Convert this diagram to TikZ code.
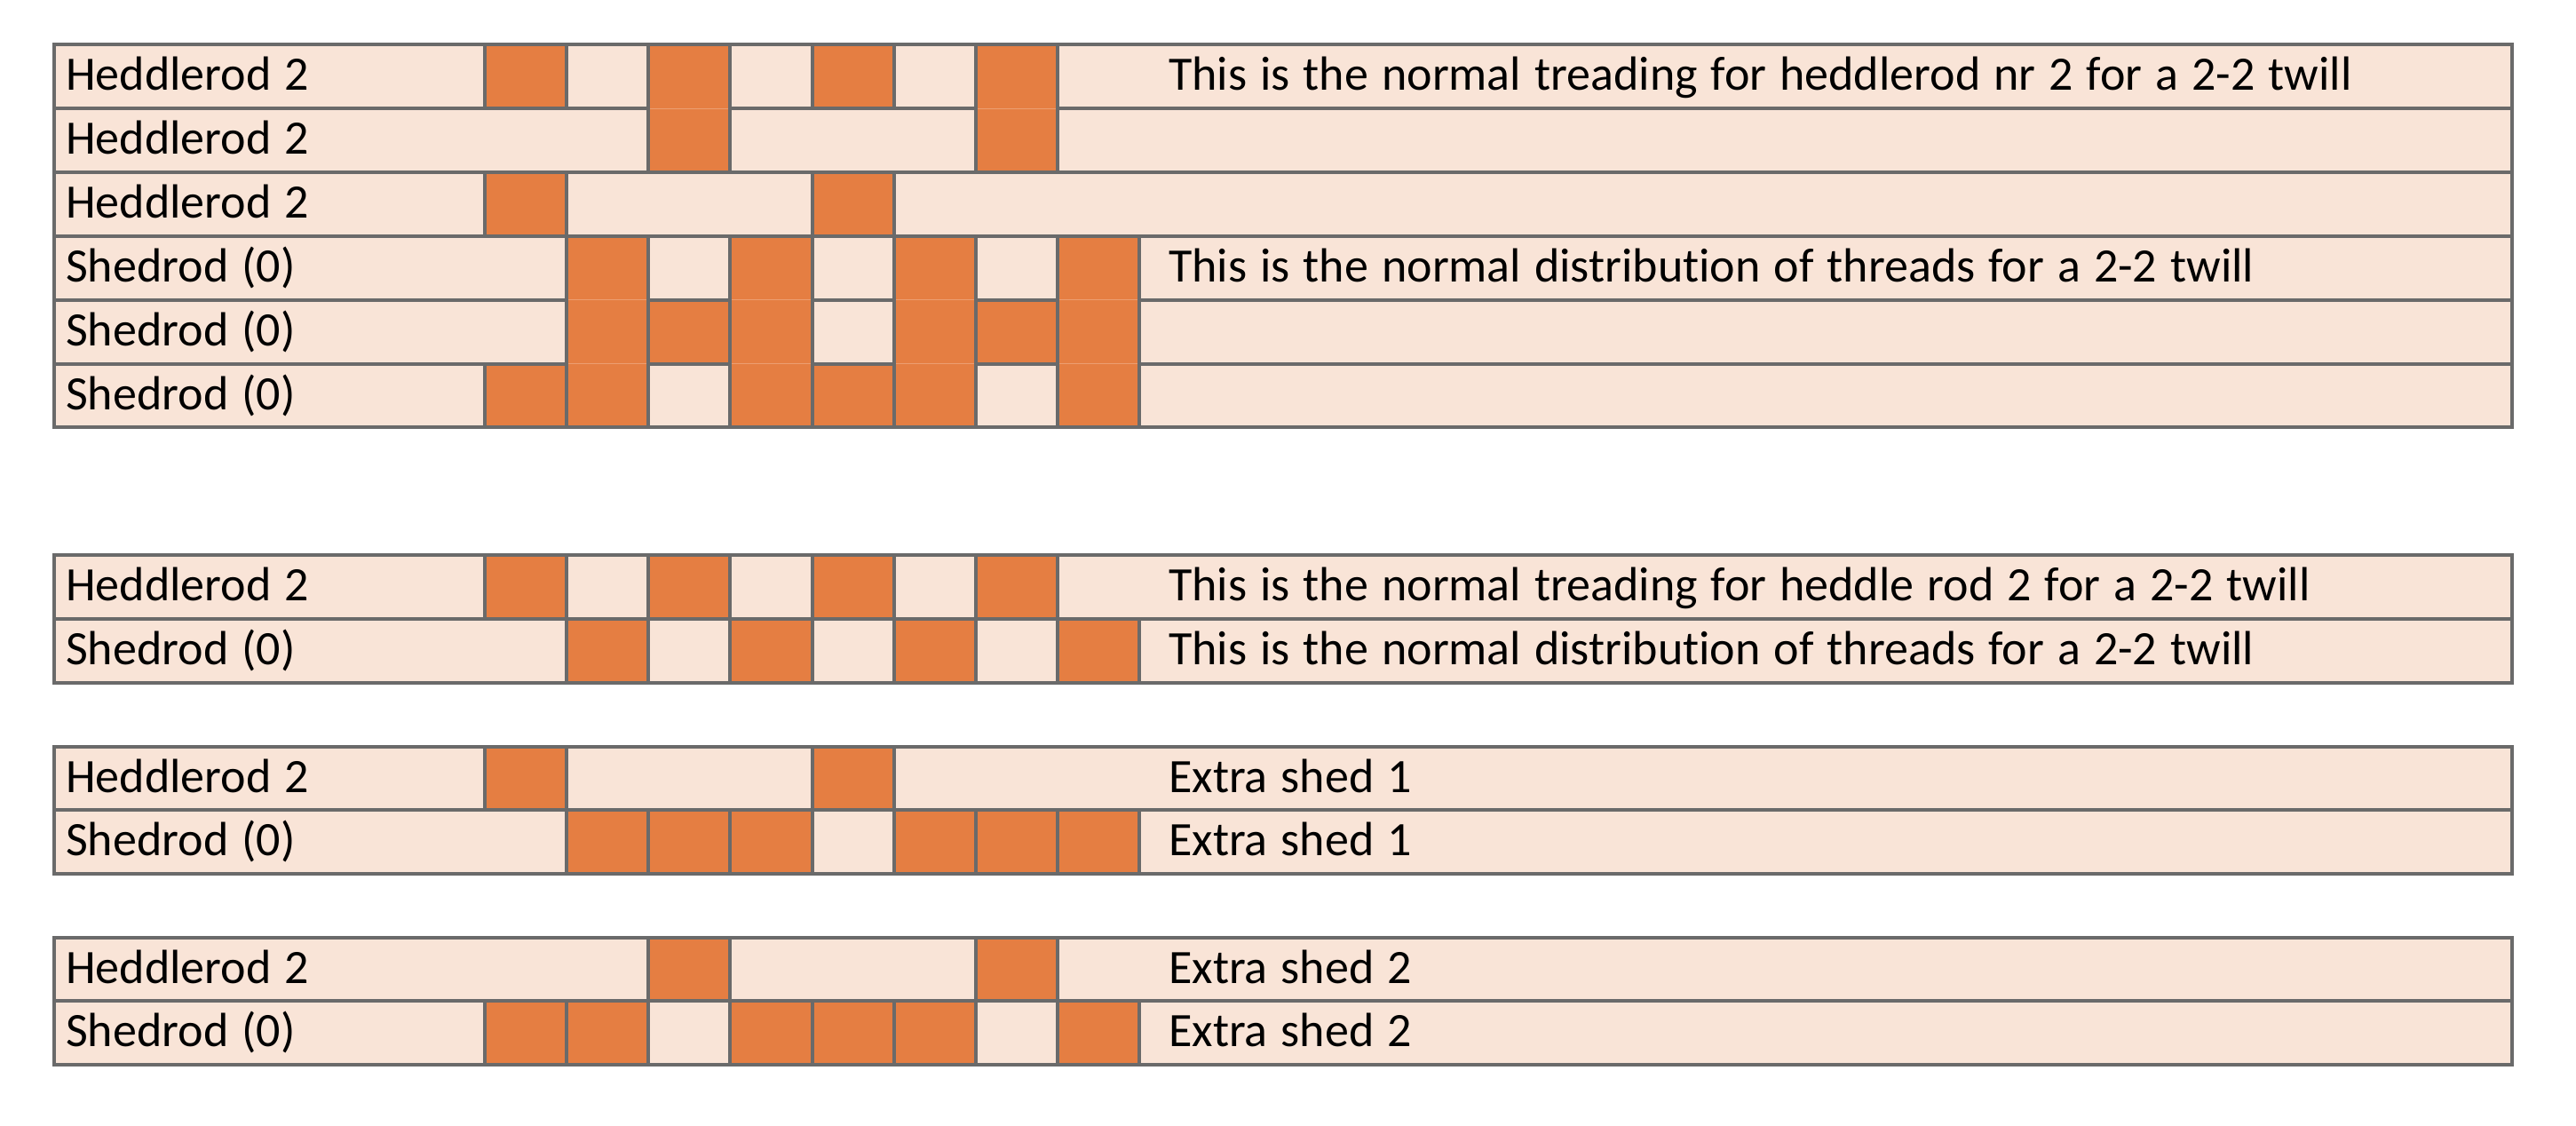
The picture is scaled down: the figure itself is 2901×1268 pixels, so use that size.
\documentclass[tikz,border=0pt]{standalone}
\usepackage{fontspec}
\setmainfont{Carlito}[WordSpace=1.23, Ligatures=NoCommon]
\definecolor{cellor}{HTML}{E57E42}
\definecolor{celllt}{HTML}{F9E4D7}
\definecolor{gridgr}{HTML}{6A6A6A}
\tikzset{
  gridln/.style={draw=gridgr, line width=4pt},
  lbl/.style={anchor=base west, inner sep=0pt, text=black, font=\fontsize{54}{60}\selectfont},
}
% #1 top, #2 list of orange cell indices
\newcommand\patrow[2]{%
  \fill[celllt] (61,#1) rectangle (2829,#1+71.8);
  \foreach \i in {#2} {\fill[cellor] ({545.8+92.2*\i},#1) rectangle ({545.8+92.2*(\i+1)},#1+71.8);}
}
% #1 y of boundary
\newcommand\gridhl[1]{\draw[gridln] (61,#1) -- (2829,#1);}
% #1 y of boundary, #2 list of cells orange above and below
\newcommand\joinor[2]{%
  \foreach \i in {#2} {%
    \fill[cellor] ({545.8+92.2*\i+2},#1-2.6) rectangle ({545.8+92.2*(\i+1)-2},#1+2.6);
    \draw[cellor!75!white, line width=1pt] ({545.8+92.2*\i+2},#1) -- ({545.8+92.2*(\i+1)-2},#1);
  }%
}
% #1 top, #2 list of vertical line indices
\newcommand\vlines[2]{%
  \foreach \i in {#2} {\draw[gridln] ({545.8+92.2*\i},#1) -- ({545.8+92.2*\i},#1+71.8);}
}
\begin{document}
\begin{tikzpicture}[x=1pt,y=-1pt]
\useasboundingbox (0,0) rectangle (2901,1268);
% ---------- group 1 ----------
\patrow{50.5}{0,2,4,6}
\patrow{122.3}{2,6}
\patrow{194.1}{0,4}
\patrow{265.9}{1,3,5,7}
\patrow{337.7}{1,2,3,5,6,7}
\patrow{409.5}{0,1,3,4,5,7}
\gridhl{122.3}\gridhl{194.1}\gridhl{265.9}\gridhl{337.7}\gridhl{409.5}
\joinor{122.3}{2,6}
\joinor{337.7}{1,3,5,7}
\joinor{409.5}{1,3,5,7}
\vlines{50.5}{0,...,7}
\vlines{122.3}{2,3,6,7}
\vlines{194.1}{0,1,4,5}
\vlines{265.9}{1,...,8}
\vlines{337.7}{1,...,8}
\vlines{409.5}{0,...,8}
\draw[gridln] (61,50.5) rectangle (2829,481.3);
\node[lbl] (a1) at (74,102) {Heddlerod 2};
\node[lbl] (a2) at (74,173.8) {Heddlerod 2};
\node[lbl] (a3) at (74,245.6) {Heddlerod 2};
\node[lbl] (a4) at (74,317.4) {Shedrod (0)};
\node[lbl] (a5) at (74,389.2) {Shedrod (0)};
\node[lbl] (a6) at (74,461) {Shedrod (0)};
\node[lbl] (t1) at (1316,102) {This is the normal treading for heddlerod nr 2 for a 2-2 twill};
\node[lbl] (t4) at (1316,317.4) {This is the normal distribution of threads for a 2-2 twill};
% ---------- group 2 ----------
\patrow{625}{0,2,4,6}
\patrow{696.8}{1,3,5,7}
\gridhl{696.8}
\vlines{625}{0,...,7}
\vlines{696.8}{1,...,8}
\draw[gridln] (61,625) rectangle (2829,768.6);
\node[lbl] (b1) at (74,676.5) {Heddlerod 2};
\node[lbl] (b2) at (74,748.3) {Shedrod (0)};
\node[lbl] (u1) at (1316,676.5) {This is the normal treading for heddle rod 2 for a 2-2 twill};
\node[lbl] (u2) at (1316,748.3) {This is the normal distribution of threads for a 2-2 twill};
% ---------- group 3 ----------
\patrow{840.5}{0,4}
\patrow{912.3}{1,2,3,5,6,7}
\gridhl{912.3}
\vlines{840.5}{0,1,4,5}
\vlines{912.3}{1,...,8}
\draw[gridln] (61,840.5) rectangle (2829,984.1);
\node[lbl] (c1) at (74,892) {Heddlerod 2};
\node[lbl] (c2) at (74,963.8) {Shedrod (0)};
\node[lbl] (v1) at (1316,892) {Extra shed 1};
\node[lbl] (v2) at (1316,963.8) {Extra shed 1};
% ---------- group 4 ----------
\patrow{1055.5}{2,6}
\patrow{1127.3}{0,1,3,4,5,7}
\gridhl{1127.3}
\vlines{1055.5}{2,3,6,7}
\vlines{1127.3}{0,...,8}
\draw[gridln] (61,1055.5) rectangle (2829,1199.1);
\node[lbl] (d1) at (74,1107) {Heddlerod 2};
\node[lbl] (d2) at (74,1178.8) {Shedrod (0)};
\node[lbl] (w1) at (1316,1107) {Extra shed 2};
\node[lbl] (w2) at (1316,1178.8) {Extra shed 2};
\end{tikzpicture}
\end{document}
